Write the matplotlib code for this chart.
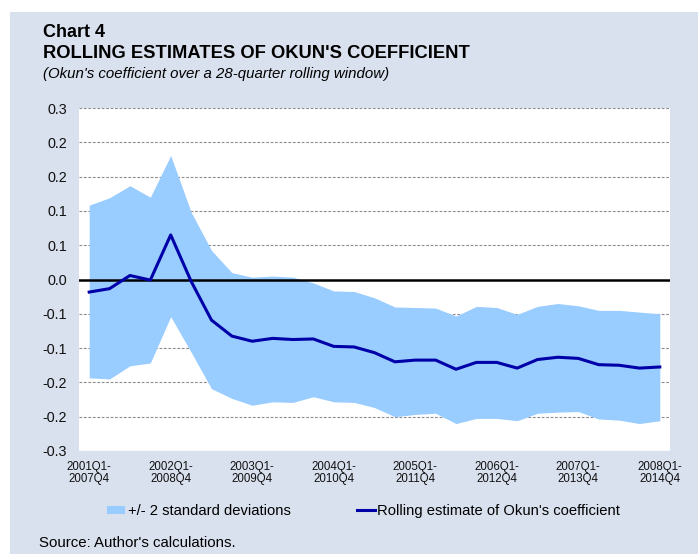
import matplotlib
matplotlib.use("Agg")
import matplotlib.pyplot as plt
import matplotlib.patches as mpatches
from matplotlib.lines import Line2D
import numpy as np

plt.rcParams['font.family'] = ['Liberation Sans', 'DejaVu Sans']

# ---- data ----
upper = [0.130, 0.143, 0.164, 0.144, 0.217, 0.118, 0.051, 0.012, 0.004, 0.006,
         0.004, -0.006, -0.020, -0.021, -0.032, -0.048, -0.049, -0.050, -0.064,
         -0.047, -0.049, -0.061, -0.047, -0.042, -0.046, -0.054, -0.054, -0.057,
         -0.060]
lower = [-0.172, -0.174, -0.151, -0.146, -0.065, -0.127, -0.191, -0.208, -0.220,
         -0.214, -0.215, -0.205, -0.214, -0.215, -0.224, -0.240, -0.236, -0.234,
         -0.252, -0.243, -0.243, -0.247, -0.234, -0.232, -0.231, -0.244, -0.246,
         -0.252, -0.247]
estimate = [-0.022, -0.016, 0.007, -0.001, 0.078, -0.003, -0.071, -0.099, -0.108,
            -0.103, -0.105, -0.104, -0.117, -0.118, -0.128, -0.144, -0.141, -0.141,
            -0.157, -0.145, -0.145, -0.155, -0.140, -0.136, -0.138, -0.149, -0.150,
            -0.155, -0.153]
xtick_pos = [0, 4, 8, 12, 16, 20, 24, 28]
xtick_labels = ["2001Q1-\n2007Q4", "2002Q1-\n2008Q4", "2003Q1-\n2009Q4",
                "2004Q1-\n2010Q4", "2005Q1-\n2011Q4", "2006Q1-\n2012Q4",
                "2007Q1-\n2013Q4", "2008Q1-\n2014Q4"]
ytick_vals = [-0.30, -0.24, -0.18, -0.12, -0.06, 0.0, 0.06, 0.12, 0.18, 0.24, 0.30]
ytick_labels = ["-0.3", "-0.2", "-0.2", "-0.1", "-0.1", "0.0", "0.1", "0.1",
                "0.2", "0.2", "0.3"]

W, H = 698, 554
BG = "#DAE1EE"
BAND = "#99CCFF"
LINE = "#0000A8"

fig = plt.figure(figsize=(W / 100, H / 100), dpi=100, facecolor="white")
fig.patches.append(mpatches.Rectangle((10 / W, 0), 1 - 10 / W, 1 - 12 / H,
                                      transform=fig.transFigure, facecolor=BG,
                                      edgecolor="none", zorder=-10))

ax = fig.add_axes([79 / W, 1 - 451 / H, (670 - 79) / W, (451 - 108) / H])
ax.set_facecolor("white")
x = np.arange(len(estimate))

for v in ytick_vals:
    if v != 0.0:
        ax.axhline(v, color="#8C8C8C", lw=0.8, ls=(0, (2.5, 1.5)), zorder=1)

ax.fill_between(x, lower, upper, color=BAND, lw=0, zorder=2,
                label="+/- 2 standard deviations")
ax.axhline(0.0, color="black", lw=1.8, zorder=3)
ax.plot(x, estimate, color=LINE, lw=2.2, zorder=4,
        label="Rolling estimate of Okun's coefficient")

ax.set_xlim(-0.5, len(estimate) - 0.5)
ax.set_ylim(-0.3, 0.3)
ax.set_yticks(ytick_vals)
ax.set_yticklabels(ytick_labels, fontsize=10.4, color="#111111")
ax.set_xticks(xtick_pos)
ax.set_xticklabels(xtick_labels, fontsize=8.3, color="#111111", linespacing=1.05)
ax.tick_params(axis="both", length=0)
ax.tick_params(axis="y", pad=8.5)
ax.tick_params(axis="x", pad=7)
for s in ax.spines.values():
    s.set_visible(False)

# titles
fig.text(43 / W, 1 - 37 / H, "Chart 4", fontsize=13, fontweight="bold",
         ha="left", va="baseline")
fig.text(43 / W, 1 - 58 / H, "ROLLING ESTIMATES OF OKUN'S COEFFICIENT",
         fontsize=13.2, fontweight="bold", ha="left", va="baseline")
fig.text(43 / W, 1 - 78 / H, "(Okun's coefficient over a 28-quarter rolling window)",
         fontsize=10.8, style="italic", ha="left", va="baseline")

handles = [mpatches.Patch(facecolor=BAND, edgecolor="none"),
           Line2D([0], [0], color=LINE, lw=2.2)]
labels = ["+/- 2 standard deviations", "Rolling estimate of Okun's coefficient"]
fig.legend(handles, labels, loc="center", bbox_to_anchor=(363.5 / W, 1 - 511 / H),
           ncol=2, frameon=False, fontsize=10.6, handlelength=1.22,
           handleheight=0.5, handletextpad=0.14, columnspacing=4.5)

fig.text(39 / W, 1 - 547 / H, "Source: Author's calculations.", fontsize=10.8,
         ha="left", va="baseline")

fig.savefig("out.png", dpi=100, facecolor=fig.get_facecolor())
